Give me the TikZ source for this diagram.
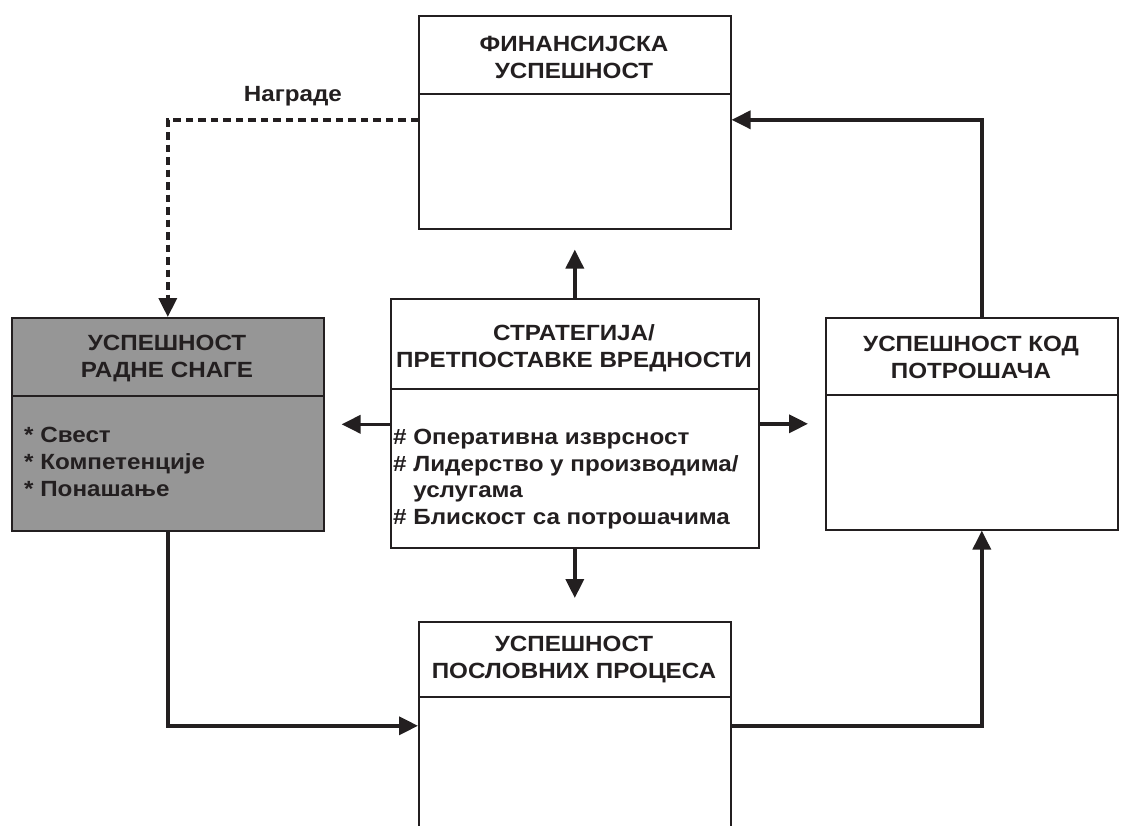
\documentclass[tikz,border=0pt]{standalone}
\usepackage{fontspec}
\setmainfont[FakeStretch=1.1]{Liberation Sans}
\usetikzlibrary{arrows.meta}

\definecolor{ink}{RGB}{35,31,32}
\definecolor{panelgray}{RGB}{150,150,150}

\tikzset{
  box/.style={draw=ink, line width=1.6pt, inner sep=0pt, anchor=north west},
  divider/.style={draw=ink, line width=1.6pt},
  labelfont/.style={font=\bfseries\fontsize{22}{27}\selectfont, text=ink, inner sep=0pt},
  title/.style={labelfont, align=center},
  items/.style={labelfont, font=\bfseries\fontsize{22}{26.7}\selectfont, align=left, anchor=west},
  arr/.style={draw=ink, line width=3.6pt, -{Triangle[length=19pt,width=18pt]}},
  dasharr/.style={draw=ink, line width=3.6pt, dash pattern=on 7.5pt off 5pt, -{Triangle[length=19pt,width=18pt]}},
}

\begin{document}
\begin{tikzpicture}[x=1pt,y=-1pt]
  \useasboundingbox (0,0) rectangle (1129,826);
  \fill[white] (0,0) rectangle (1129,826);
  \clip (0,0) rectangle (1129,826);

  % frames
  \node[box, minimum width=312pt, minimum height=213pt] (fin) at (418,15) {};
  \node[box, fill=panelgray, minimum width=312pt, minimum height=213pt] (ws) at (11,317) {};
  \node[box, minimum width=368pt, minimum height=249pt] (strat) at (390,298) {};
  \node[box, minimum width=292pt, minimum height=212pt] (cust) at (825,317) {};
  \node[box, minimum width=312pt, minimum height=208pt] (bp) at (418,621) {};

  % header dividers
  \draw[divider] ([yshift=-79pt]fin.north west) -- ([yshift=-79pt]fin.north east);
  \draw[divider] ([yshift=-79pt]ws.north west) -- ([yshift=-79pt]ws.north east);
  \draw[divider] ([yshift=-91pt]strat.north west) -- ([yshift=-91pt]strat.north east);
  \draw[divider] ([yshift=-78pt]cust.north west) -- ([yshift=-78pt]cust.north east);
  \draw[divider] ([yshift=-76pt]bp.north west) -- ([yshift=-76pt]bp.north east);

  % headings
  \node[title] (finT) at (574,57) {ФИНАНСИЈСКА\\УСПЕШНОСТ};
  \node[title] (wsT) at (167,359) {УСПЕШНОСТ\\РАДНЕ СНАГЕ};
  \node[title] (stratT) at (574,348) {СТРАТЕГИЈА/\\ПРЕТПОСТАВКЕ ВРЕДНОСТИ};
  \node[title] (custT) at (971,357) {УСПЕШНОСТ КОД\\ПОТРОШАЧА};
  \node[title] (bpT) at (574,660) {УСПЕШНОСТ\\ПОСЛОВНИХ ПРОЦЕСА};

  % lists
  \node[items] (wsL) at (24,462) {* Свест\\* Компетенције\\* Понашање};
  \node[items] (stratL) at (393,479) {\# Оперативна изврсност\\\# Лидерство у производима/\\\phantom{\# }услугама\\\# Блискост са потрошачима};

  % connectors
  \draw[arr, shorten >=20pt] (strat.north) -- (fin.south);
  \draw[arr, shorten >=17pt] (strat.west |- ws.east) -- (ws.east);
  \draw[arr, shorten >=17pt] (strat.east |- cust.west) -- (cust.west);
  \draw[arr, shorten >=23pt] (strat.south) -- (bp.north);
  \draw[arr] (ws.south) |- (bp.west);
  \draw[arr] (bp.east) -| ([xshift=10pt]cust.south);
  \draw[arr] ([xshift=10pt]cust.north) |- ([yshift=2.5pt]fin.east);
  \draw[dasharr] ([yshift=2.5pt]fin.west) -| (ws.north)
    node[pos=0.25, above=12pt, labelfont] (reward) {Награде};
\end{tikzpicture}
\end{document}
